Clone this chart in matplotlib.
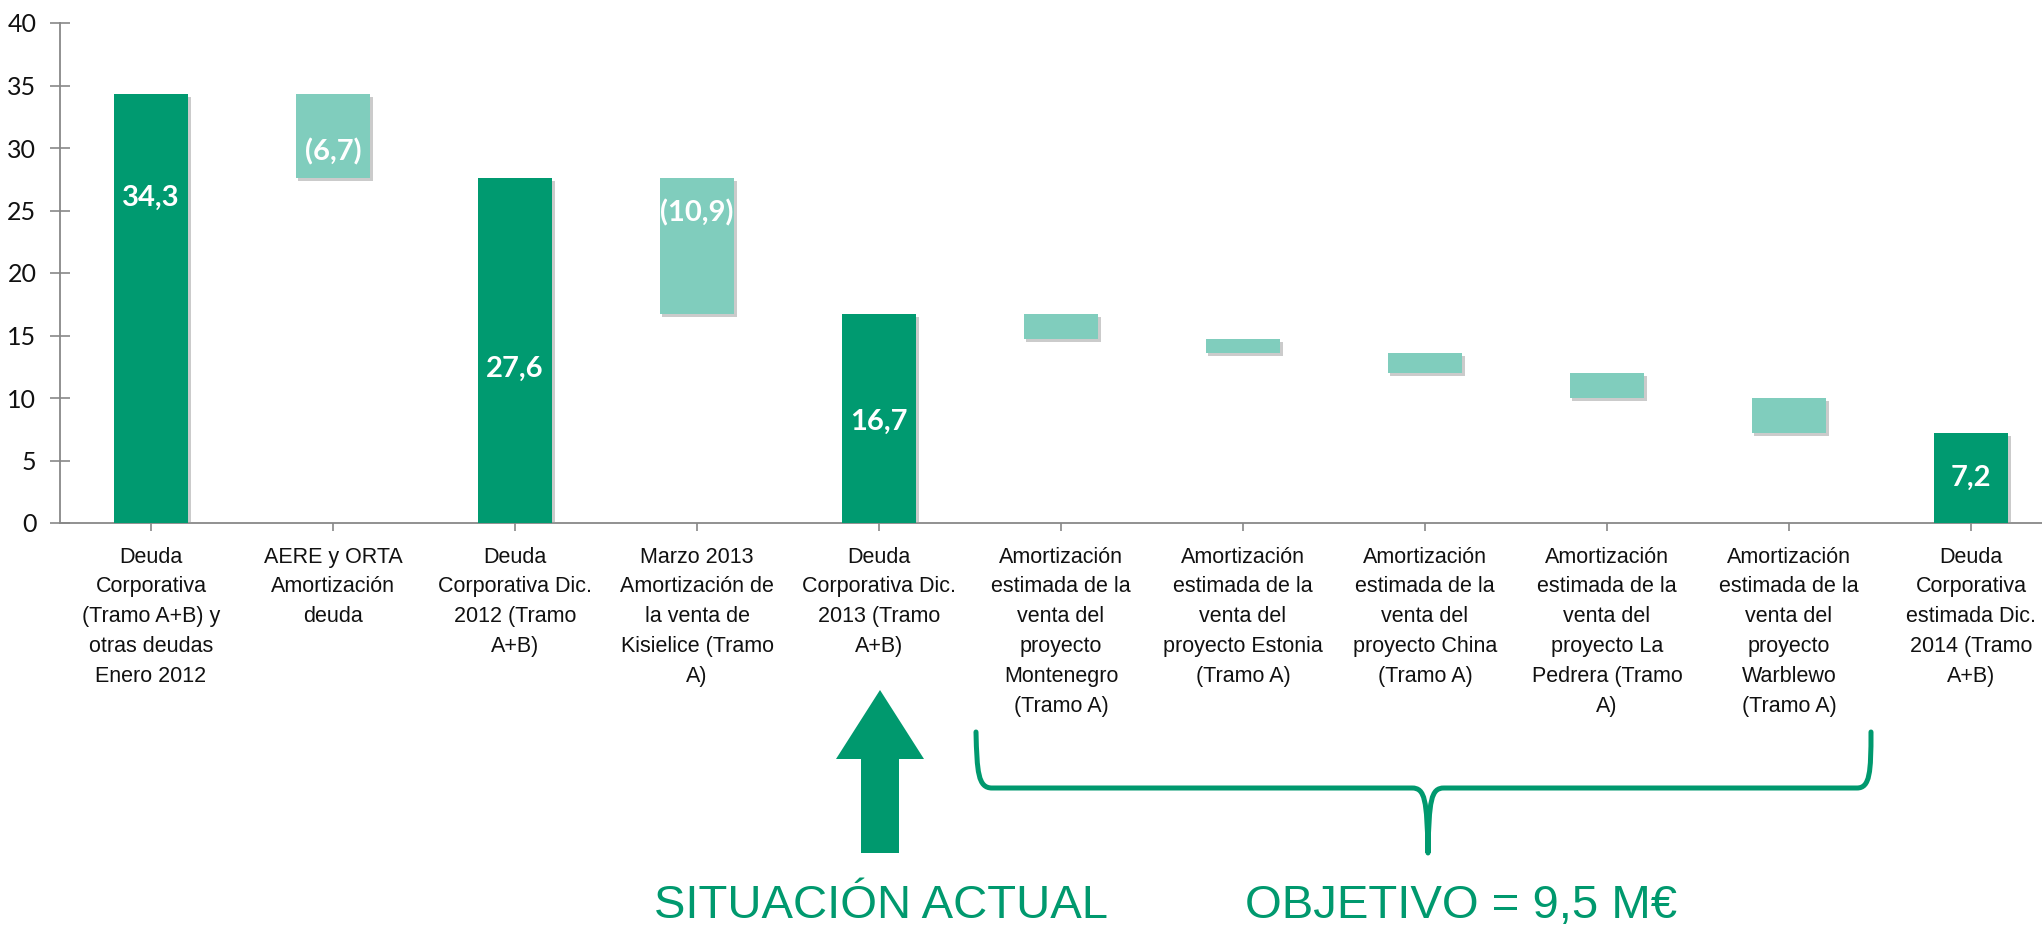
import matplotlib
matplotlib.use("Agg")
import matplotlib.pyplot as plt
import matplotlib.patheffects as pe
from matplotlib.path import Path
from matplotlib.patches import PathPatch, Polygon

# Data
categories = [
    "Deuda\nCorporativa\n(Tramo A+B) y\notras deudas\nEnero 2012",
    "AERE y ORTA\nAmortización\ndeuda",
    "Deuda\nCorporativa Dic.\n2012 (Tramo\nA+B)",
    "Marzo 2013\nAmortización de\nla venta de\nKisielice (Tramo\nA)",
    "Deuda\nCorporativa Dic.\n2013 (Tramo\nA+B)",
    "Amortización\nestimada de la\nventa del\nproyecto\nMontenegro\n(Tramo A)",
    "Amortización\nestimada de la\nventa del\nproyecto Estonia\n(Tramo A)",
    "Amortización\nestimada de la\nventa del\nproyecto China\n(Tramo A)",
    "Amortización\nestimada de la\nventa del\nproyecto La\nPedrera (Tramo\nA)",
    "Amortización\nestimada de la\nventa del\nproyecto\nWarblewo\n(Tramo A)",
    "Deuda\nCorporativa\nestimada Dic.\n2014 (Tramo\nA+B)",
]
# 'total' bars are absolute levels, 'step' bars are reductions
kinds = ["total", "step", "total", "step", "total", "step", "step", "step", "step", "step", "total"]
values = [34.3, -6.7, 27.6, -10.9, 16.7, -2.0, -1.1, -1.6, -2.0, -2.8, 7.2]
labels = ["34,3", "(6,7)", "27,6", "(10,9)", "16,7", "", "", "", "", "", "7,2"]
label_y = [26.0, 29.7, 12.3, 24.8, 8.1, None, None, None, None, None, 3.6]

dark = "#009A70"
light = "#80CDBD"
W, H = 2042, 927

fig = plt.figure(figsize=(W / 100, H / 100), dpi=100)
ax = fig.add_axes([60 / W, 404 / H, 2002 / W, 500 / H])

bottoms, heights, colors = [], [], []
level = 0
for k, v in zip(kinds, values):
    if k == "total":
        bottoms.append(0)
        heights.append(v)
        colors.append(dark)
        level = v
    else:
        bottoms.append(level + v)
        heights.append(-v)
        colors.append(light)
        level = level + v

x = list(range(len(categories)))
bars = ax.bar(x, heights, bottom=bottoms, width=0.41, color=colors, zorder=3)
for b in bars:
    b.set_path_effects([pe.SimplePatchShadow(offset=(2, -2), shadow_rgbFace="#999999", alpha=0.5),
                        pe.Normal()])

for xi, lab, ly in zip(x, labels, label_y):
    if lab:
        ax.text(xi, ly, lab, ha="center", va="center", color="white",
                fontsize=21, fontweight="bold", family=["Lato", "DejaVu Sans"], zorder=5)

ax.set_xlim(-0.5, 10.5)
ax.set_ylim(0, 40)
ax.set_yticks(range(0, 41, 5))
ax.set_xticks(x)
ax.set_xticklabels(categories, fontsize=15.5, linespacing=1.55,
                   family=["Liberation Sans", "DejaVu Sans"], color="#111111")
for t in ax.get_yticklabels():
    t.set_family(["Lato", "DejaVu Sans"])
    t.set_fontsize(18)
    t.set_color("#111111")

for s in ["top", "right"]:
    ax.spines[s].set_visible(False)
for s in ["left", "bottom"]:
    ax.spines[s].set_color("#888888")
    ax.spines[s].set_linewidth(1.3)
ax.tick_params(axis="y", direction="inout", length=14, width=1.2, color="#888888", pad=10)
ax.tick_params(axis="x", direction="out", length=6, width=1.2, color="#888888", pad=11)


def fp(px, py):
    return (px / W, 1 - py / H)


green = "#00996E"

# big arrow under "Deuda Corporativa Dic. 2013"
arrow_pts = [fp(880, 690), fp(924, 759), fp(899, 759), fp(899, 853),
             fp(861, 853), fp(861, 759), fp(836, 759)]
fig.patches.append(Polygon(arrow_pts, closed=True, transform=fig.transFigure,
                           facecolor=green, edgecolor="none"))

# brace under the five estimated amortizations
verts = [fp(976, 732),
         fp(977, 772), fp(978, 788), fp(992, 788),
         fp(1412, 788),
         fp(1425, 788), fp(1427, 800), fp(1428, 853),
         fp(1429, 800), fp(1431, 788), fp(1444, 788),
         fp(1857, 788),
         fp(1870, 788), fp(1871, 772), fp(1871, 732)]
codes = [Path.MOVETO,
         Path.CURVE4, Path.CURVE4, Path.CURVE4,
         Path.LINETO,
         Path.CURVE4, Path.CURVE4, Path.CURVE4,
         Path.CURVE4, Path.CURVE4, Path.CURVE4,
         Path.LINETO,
         Path.CURVE4, Path.CURVE4, Path.CURVE4]
fig.patches.append(PathPatch(Path(verts, codes), transform=fig.transFigure,
                             facecolor="none", edgecolor=green, linewidth=3.6,
                             capstyle="round", joinstyle="round"))

big = dict(fontsize=34, color=green, ha="center", va="baseline",
           family=["Liberation Sans", "DejaVu Sans"])
fig.text(881 / W, 9 / H, "SITUACIÓN ACTUAL", **big)
fig.text(1461 / W, 9 / H, "OBJETIVO = 9,5 M€", **big)

fig.savefig("out.png", dpi=100)
